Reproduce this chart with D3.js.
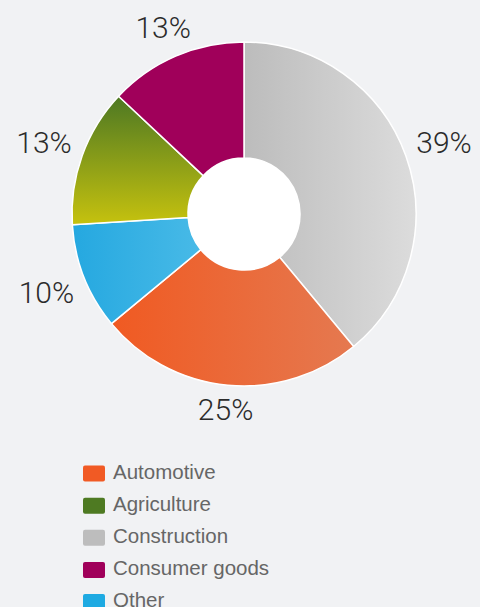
<!DOCTYPE html>
<html>
  <head>
    <meta http-equiv="Content-Type" content="text/html;charset=utf-8"/>
    <style type="text/css">
body {
  margin: 0;
  background: #f1f2f4;
}
svg {
  display: block;
}
.pct {
  font: 300 30px Roboto, "Liberation Sans", sans-serif;
  fill: #2b2b2b;
}
.legend text {
  font: 400 20.5px "Liberation Sans", Arial, sans-serif;
  fill: #666;
}
    </style>
  </head>
  <body>
    <svg></svg>
    <script src="https://cdn.jsdelivr.net/npm/d3@7/dist/d3.min.js"></script>
    <script type="text/javascript">

// slices in clockwise order from 12 o'clock
var sectors = ["Construction", "Automotive", "Other", "Agriculture", "Consumer goods"];
var shares = [39, 25, 10, 13, 13];

// legend order
var legendItems = ["Automotive", "Agriculture", "Construction", "Consumer goods", "Other"];
var legendColors = ["#f15a24", "#4e7a22", "#bdbdbd", "#a0005a", "#1eaae2"];

// gradient stops per slice [from, to, direction]
var fills = {
  "Construction":   ["#bcbcbc", "#dcdcdc", "h"],
  "Automotive":     ["#f05a22", "#e57950", "h"],
  "Other":          ["#25a8e0", "#48bae7", "h"],
  "Agriculture":    ["#4d7823", "#c6c20e", "v"],
  "Consumer goods": ["#a0005a", "#a0005a", "h"]
};

var W = 480, H = 607,
    cx = 244, cy = 214,
    outerR = 172, innerR = 56;

var svg = d3.select("svg")
    .attr("width", W)
    .attr("height", H);

var defs = svg.append("defs");
sectors.forEach(function (s, i) {
  var f = fills[s];
  var g = defs.append("linearGradient")
      .attr("id", "grad" + i)
      .attr("x1", 0).attr("y1", 0)
      .attr("x2", f[2] === "h" ? 1 : 0)
      .attr("y2", f[2] === "h" ? 0 : 1);
  g.append("stop").attr("offset", "0%").attr("stop-color", f[0]);
  g.append("stop").attr("offset", "100%").attr("stop-color", f[1]);
});

var data = sectors.map((s, i) => ({name: s, value: shares[i], idx: i}));

var pie = d3.pie()
    .sort(null)
    .value(d => d.value);

var arc = d3.arc()
    .innerRadius(innerR)
    .outerRadius(outerR);

var chart = svg.append("g")
    .attr("transform", "translate(" + cx + "," + cy + ")");

var arcs = pie(data);

chart.selectAll("path.slice")
    .data(arcs)
  .enter().append("path")
    .attr("class", "slice")
    .attr("d", arc)
    .attr("fill", d => "url(#grad" + d.data.idx + ")")
    .attr("stroke", "#fff")
    .attr("stroke-width", 1.5)
    .attr("stroke-linejoin", "round");

chart.append("circle")
    .attr("r", innerR)
    .attr("fill", "#fff");

// percentage labels, pushed out so the text box clears the ring
var hx = 28.5, hy = 11;
chart.selectAll("text.pct")
    .data(arcs)
  .enter().append("text")
    .attr("class", "pct")
    .attr("text-anchor", "middle")
    .attr("dy", "0.36em")
    .attr("transform", function (d) {
      var a = (d.startAngle + d.endAngle) / 2,
          s = Math.sin(a), c = Math.cos(a),
          r = outerR + 10 + hx * Math.abs(s) + hy * Math.abs(c);
      return "translate(" + (r * s) + "," + (-r * c) + ")";
    })
    .text(d => d.data.value + "%");

// legend
var ly = d3.scalePoint()
    .domain(legendItems)
    .range([473.5, 602]);

var legend = svg.append("g")
    .attr("class", "legend");

var rows = legend.selectAll("g")
    .data(legendItems)
  .enter().append("g")
    .attr("transform", d => "translate(82," + ly(d) + ")");

rows.append("rect")
    .attr("x", 1)
    .attr("y", -8)
    .attr("width", 22)
    .attr("height", 16)
    .attr("rx", 2)
    .attr("fill", (d, i) => legendColors[i]);

rows.append("text")
    .attr("x", 31)
    .attr("y", -2)
    .attr("dy", "0.35em")
    .text(d => d);

    </script>
  </body>
</html>
